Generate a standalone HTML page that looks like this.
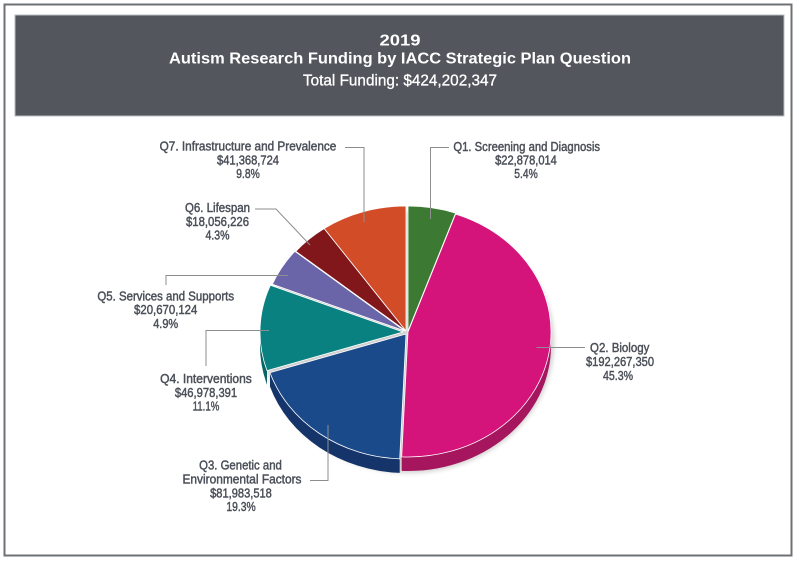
<!DOCTYPE html>
<html>
<head>
<meta charset="utf-8">
<style>
html,body{margin:0;padding:0;background:#fff;}
body{width:800px;height:563px;overflow:hidden;}
svg{display:block;}
.lbl{font-family:"Liberation Sans",Arial,sans-serif;font-size:12.5px;fill:#4b4f58;stroke:#4b4f58;stroke-width:0.45;text-anchor:middle;}
.ld{fill:none;stroke:#8c8e92;stroke-width:1;}
</style>
</head>
<body>
<svg width="800" height="563" viewBox="0 0 800 563" xmlns="http://www.w3.org/2000/svg">
  <defs>
    <filter id="sh" x="-20%" y="-20%" width="140%" height="140%">
      <feGaussianBlur stdDeviation="2.5"/>
    </filter>
  </defs>
  <rect x="0" y="0" width="800" height="563" fill="#ffffff"/>
  <!-- outer border -->
  <rect x="4.5" y="4.5" width="787" height="551" fill="none" stroke="#6d7075" stroke-width="2"/>
  <!-- header -->
  <rect x="15" y="15" width="769" height="101" fill="#53565d" stroke="#b9bcc0" stroke-width="1"/>
  <g font-family="'Liberation Sans',Arial,sans-serif" fill="#ffffff" text-anchor="middle">
    <text x="400" y="45.7" font-size="16" font-weight="bold" textLength="41" lengthAdjust="spacingAndGlyphs">2019</text>
    <text x="400" y="63.5" font-size="15.5" font-weight="bold" textLength="462" lengthAdjust="spacingAndGlyphs">Autism Research Funding by IACC Strategic Plan Question</text>
    <text x="400" y="85.7" font-size="15.5" textLength="194" lengthAdjust="spacingAndGlyphs" stroke="#ffffff" stroke-width="0.3">Total Funding: $424,202,347</text>
  </g>

  <!-- pie shadow -->
  <ellipse cx="409" cy="342" rx="145" ry="131" fill="#000" opacity="0.18" filter="url(#sh)"/>

  <!-- side faces -->
  <path d="M551,332 A143,125 0 0,1 401.71,456.88 L401.71,470.88 A143,125 0 0,0 551,346 Z" fill="#a5165f"/>
  <path d="M399.71,458.88 A143,125 0 0,1 270,372.63 L270,386.63 A143,125 0 0,0 399.71,472.88 Z" fill="#15356a"/>
  <path d="M267,370.63 A143,125 0 0,1 260,332 L260,346 A143,125 0 0,0 267,384.63 Z" fill="#086565"/>

  <!-- top faces -->
  <g stroke="#ffffff" stroke-width="0.8" stroke-linejoin="round">
    <path d="M408,331 L408,206 A143,125 0 0,1 455.59,213.12 Z" fill="#3c7a34"/>
    <path d="M408,332 L455.59,214.12 A143,125 0 0,1 401.71,456.88 Z" fill="#d4147b"/>
    <path d="M406,334 L399.71,458.88 A143,125 0 0,1 270,372.63 Z" fill="#1b4a8a"/>
    <path d="M403,332 L267,370.63 A143,125 0 0,1 270.37,285.26 Z" fill="#0a8181"/>
    <path d="M405,331 L272.37,284.26 A143,125 0 0,1 294.82,251.32 Z" fill="#6a64a8"/>
    <path d="M406,331 L295.82,251.32 A143,125 0 0,1 324.15,228.5 Z" fill="#82171b"/>
    <path d="M406,331 L324.15,228.5 A143,125 0 0,1 406,206 Z" fill="#d24c27"/>
  </g>

  <!-- leader lines -->
  <path class="ld" d="M345,147.5 H364 V222"/>
  <path class="ld" d="M255,209 H276 L310,245"/>
  <path class="ld" d="M166,285 V275.5 H288"/>
  <path class="ld" d="M206,366 V330.5 H269"/>
  <path class="ld" d="M310,480.5 H328 V425"/>
  <path class="ld" d="M449,147.5 H430.5 V219"/>
  <path class="ld" d="M536.5,347.5 H585"/>

  <!-- labels -->
  <text class="lbl" x="248" y="150.5" textLength="176.7" lengthAdjust="spacingAndGlyphs">Q7. Infrastructure and Prevalence</text>
  <text class="lbl" x="248" y="164.5" textLength="62" lengthAdjust="spacingAndGlyphs">$41,368,724</text>
  <text class="lbl" x="248" y="178" textLength="23.5" lengthAdjust="spacingAndGlyphs">9.8%</text>

  <text class="lbl" x="217.5" y="212" textLength="65" lengthAdjust="spacingAndGlyphs">Q6. Lifespan</text>
  <text class="lbl" x="217.5" y="226" textLength="63" lengthAdjust="spacingAndGlyphs">$18,056,226</text>
  <text class="lbl" x="217.5" y="239.5" textLength="24" lengthAdjust="spacingAndGlyphs">4.3%</text>

  <text class="lbl" x="165.7" y="300.5" textLength="136.7" lengthAdjust="spacingAndGlyphs">Q5. Services and Supports</text>
  <text class="lbl" x="165.7" y="314" textLength="63.3" lengthAdjust="spacingAndGlyphs">$20,670,124</text>
  <text class="lbl" x="165.7" y="328" textLength="25" lengthAdjust="spacingAndGlyphs">4.9%</text>

  <text class="lbl" x="206" y="383" textLength="91.7" lengthAdjust="spacingAndGlyphs">Q4. Interventions</text>
  <text class="lbl" x="206" y="397" textLength="62.3" lengthAdjust="spacingAndGlyphs">$46,978,391</text>
  <text class="lbl" x="206" y="410.5" textLength="26.7" lengthAdjust="spacingAndGlyphs">11.1%</text>

  <text class="lbl" x="240.5" y="469.5" textLength="82.7" lengthAdjust="spacingAndGlyphs">Q3. Genetic and</text>
  <text class="lbl" x="242" y="483.5" textLength="119" lengthAdjust="spacingAndGlyphs">Environmental Factors</text>
  <text class="lbl" x="241" y="497.5" textLength="61.7" lengthAdjust="spacingAndGlyphs">$81,983,518</text>
  <text class="lbl" x="241" y="511" textLength="29.3" lengthAdjust="spacingAndGlyphs">19.3%</text>

  <text class="lbl" x="526.7" y="151" textLength="146.7" lengthAdjust="spacingAndGlyphs">Q1. Screening and Diagnosis</text>
  <text class="lbl" x="526" y="164.5" textLength="61.7" lengthAdjust="spacingAndGlyphs">$22,878,014</text>
  <text class="lbl" x="526" y="178" textLength="23.5" lengthAdjust="spacingAndGlyphs">5.4%</text>

  <text class="lbl" x="619.7" y="352" textLength="59.3" lengthAdjust="spacingAndGlyphs">Q2. Biology</text>
  <text class="lbl" x="620" y="366" textLength="68" lengthAdjust="spacingAndGlyphs">$192,267,350</text>
  <text class="lbl" x="618" y="380" textLength="30" lengthAdjust="spacingAndGlyphs">45.3%</text>
</svg>
</body>
</html>
